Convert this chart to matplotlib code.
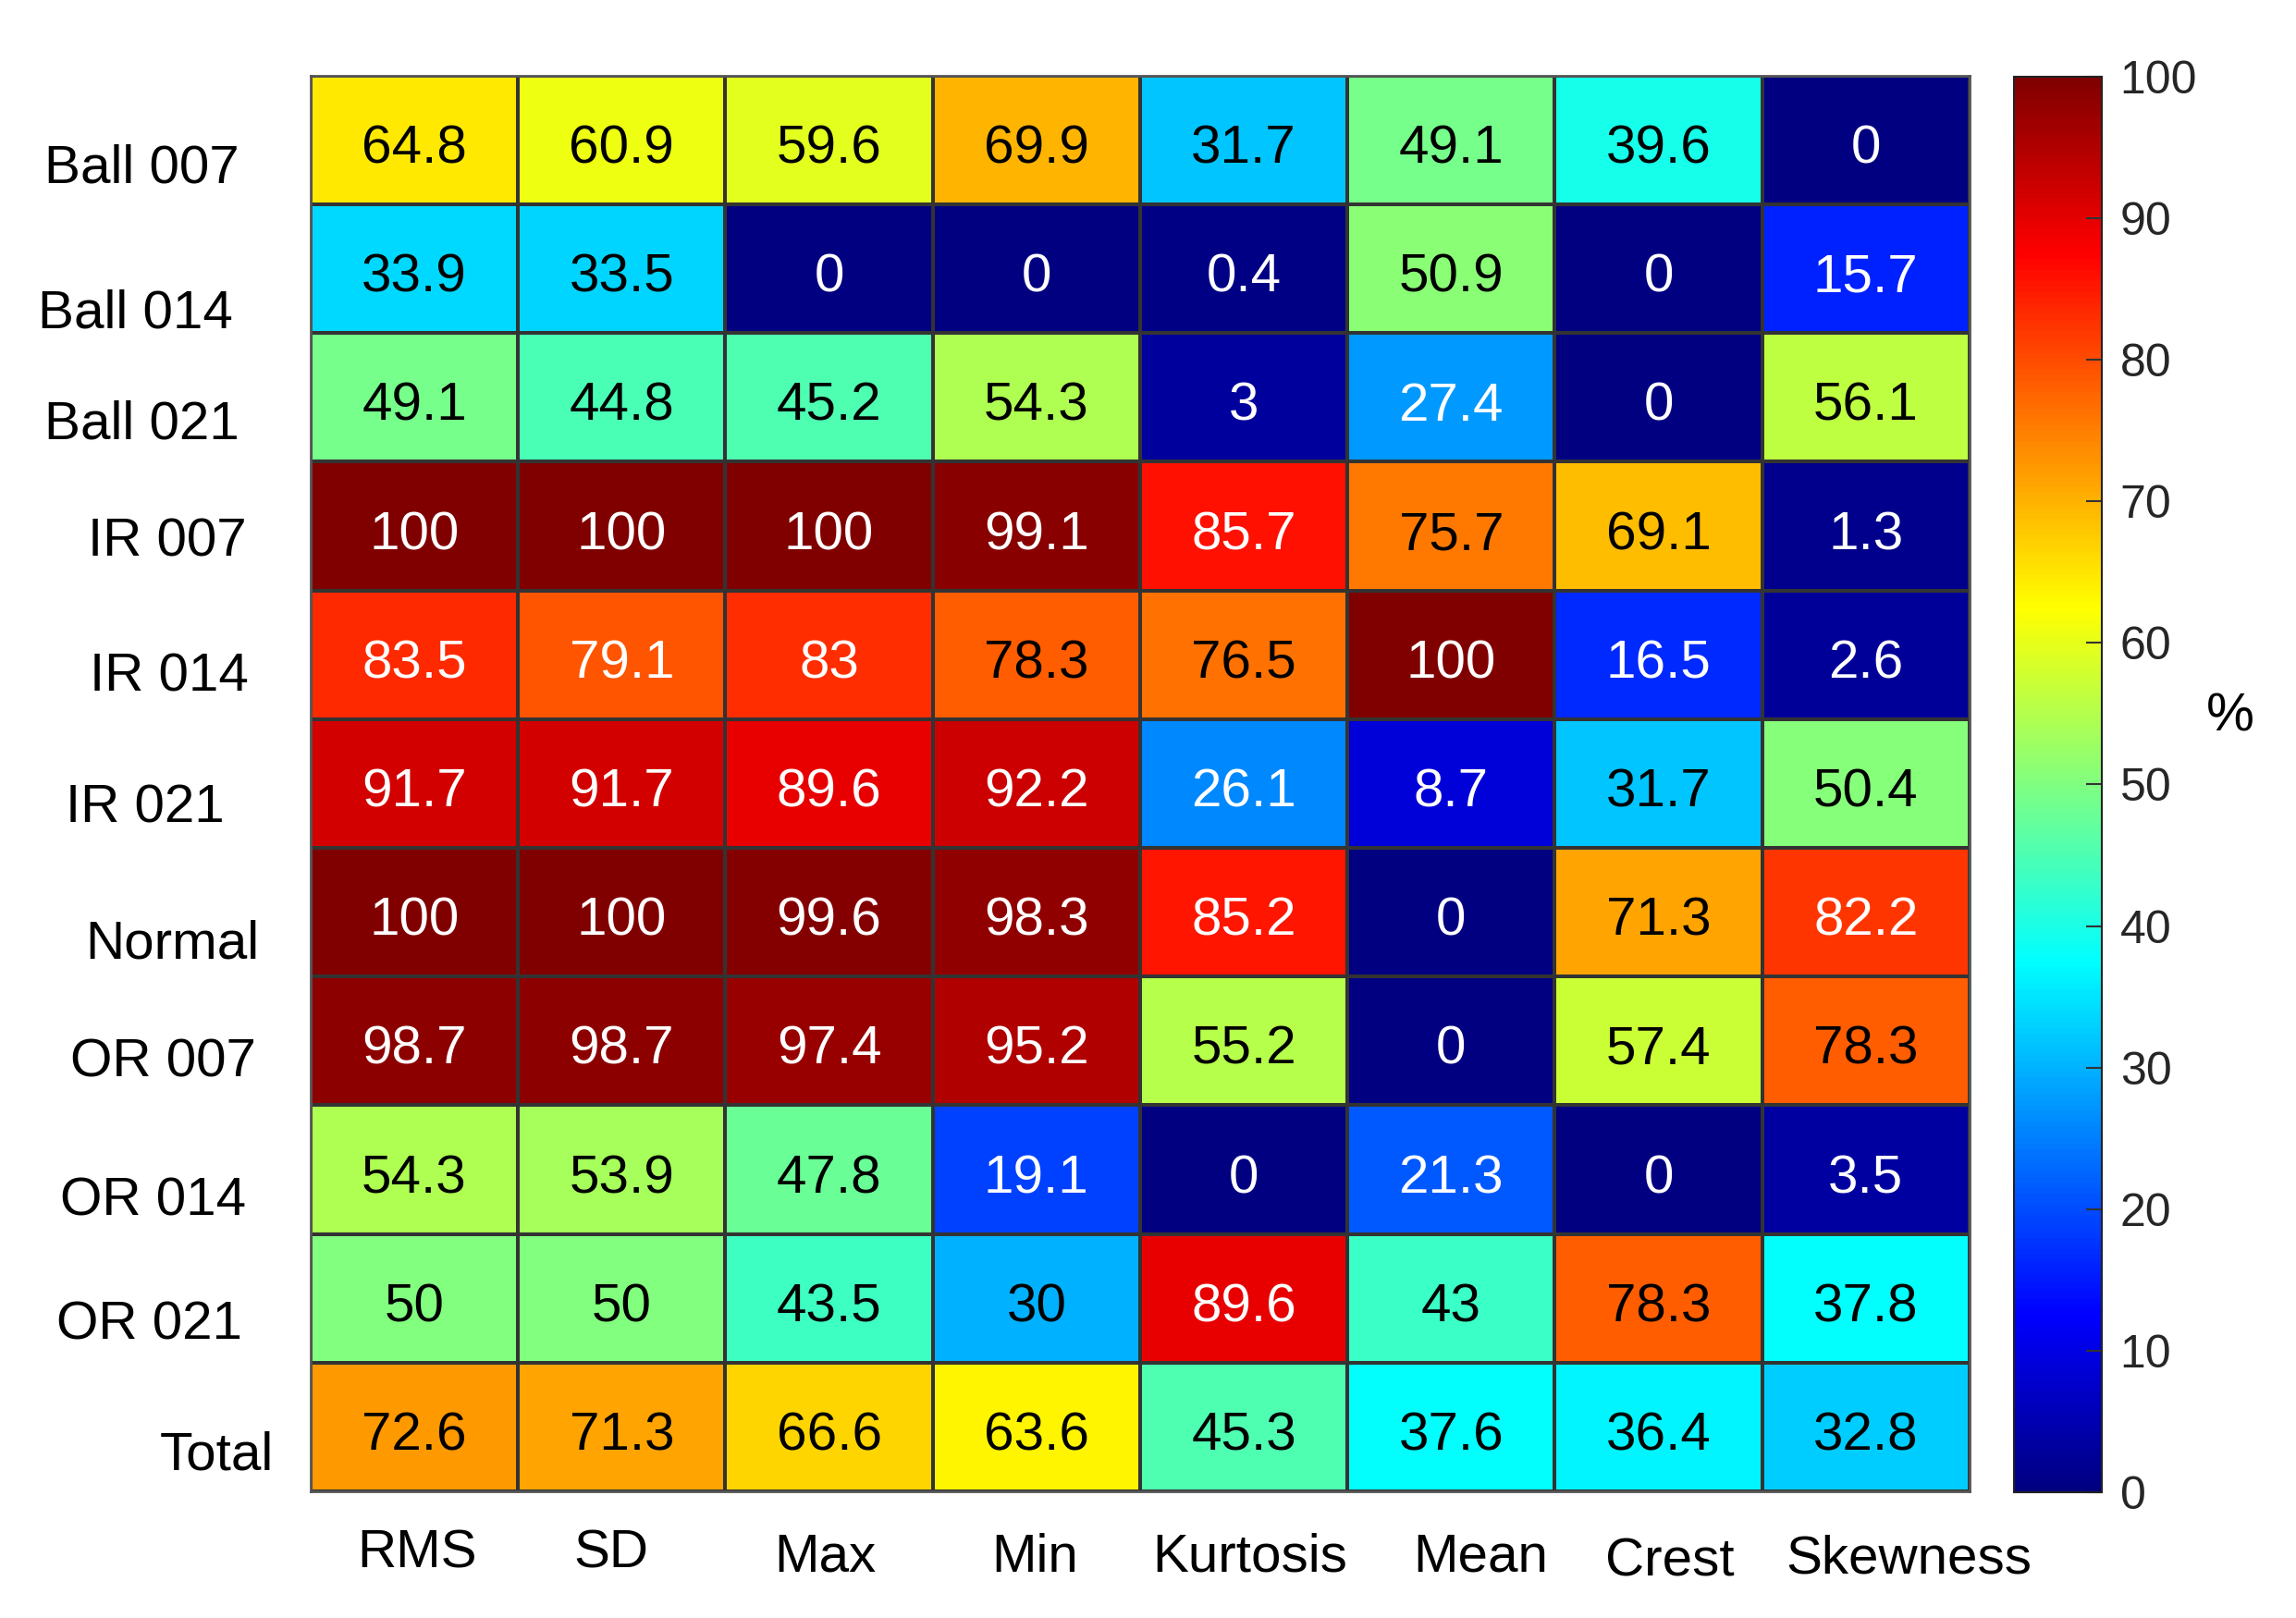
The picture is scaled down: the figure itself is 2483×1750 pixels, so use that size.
import matplotlib
matplotlib.use("Agg")
import matplotlib.pyplot as plt
from matplotlib.colors import LinearSegmentedColormap
import numpy as np

# données (précision en %)
lignes = ["Ball 007", "Ball 014", "Ball 021", "IR 007", "IR 014", "IR 021",
          "Normal", "OR 007", "OR 014", "OR 021", "Total"]
colonnes = ["RMS", "SD", "Max", "Min", "Kurtosis", "Mean", "Crest", "Skewness"]

ball_007 = [64.8, 60.9, 59.6, 69.9, 31.7, 49.1, 39.6, 0]
ball_014 = [33.9, 33.5, 0, 0, 0.4, 50.9, 0, 15.7]
ball_021 = [49.1, 44.8, 45.2, 54.3, 3, 27.4, 0, 56.1]
ir_007 = [100, 100, 100, 99.1, 85.7, 75.7, 69.1, 1.3]
ir_014 = [83.5, 79.1, 83, 78.3, 76.5, 100, 16.5, 2.6]
ir_021 = [91.7, 91.7, 89.6, 92.2, 26.1, 8.7, 31.7, 50.4]
normal = [100, 100, 99.6, 98.3, 85.2, 0, 71.3, 82.2]
or_007 = [98.7, 98.7, 97.4, 95.2, 55.2, 0, 57.4, 78.3]
or_014 = [54.3, 53.9, 47.8, 19.1, 0, 21.3, 0, 3.5]
or_021 = [50, 50, 43.5, 30, 89.6, 43, 78.3, 37.8]
total = [72.6, 71.3, 66.6, 63.6, 45.3, 37.6, 36.4, 32.8]

valeurs = np.array([ball_007, ball_014, ball_021, ir_007, ir_014, ir_021,
                    normal, or_007, or_014, or_021, total])

# décalages des étiquettes (en pixels) pour coller à l'image d'origine
ecart_lignes = [77, 84, 77, 69, 67, 93, 56, 59, 70, 74, 40]
decal_lignes = [27, 45, 26, 13, 20, 23, 31, 20, 30, 25, 27]
decal_col_x = [3, -11, -4, -2, 7, 32, 12, 47]
decal_col_y = [64, 64, 68, 68, 68, 68, 73, 70]

# jet façon MATLAB (un peu différent de celui de matplotlib)
jet_matlab = LinearSegmentedColormap("jet_matlab", {
    'red':   [(0, 0, 0), (3/8, 0, 0), (5/8, 1, 1), (7/8, 1, 1), (1, 0.5, 0.5)],
    'green': [(0, 0, 0), (1/8, 0, 0), (3/8, 1, 1), (5/8, 1, 1), (7/8, 0, 0), (1, 0, 0)],
    'blue':  [(0, 0.5, 0.5), (1/8, 1, 1), (3/8, 1, 1), (5/8, 0, 0), (1, 0, 0)],
}, N=256)

police = "Liberation Sans"
plt.rcParams['font.family'] = [police, 'DejaVu Sans']

fig = plt.figure(figsize=(24.83, 17.5), dpi=100)
ax = fig.add_axes([0.1353, 0.0783, 0.7225, 0.8749])
cax = fig.add_axes([0.8772, 0.0777, 0.0383, 0.8749])

nl, nc = valeurs.shape
mesh = ax.pcolormesh(np.arange(nc + 1), np.arange(nl + 1), valeurs,
                     cmap=jet_matlab, vmin=0, vmax=100,
                     edgecolors='#333333', linewidth=1.5)
ax.set_xlim(0, nc)
ax.set_ylim(nl, 0)
ax.set_xticks([])
ax.set_yticks([])
for s in ax.spines.values():
    s.set_color('#555555')
    s.set_linewidth(2)

for i in range(nl):
    for j in range(nc):
        v = valeurs[i, j]
        couleur = 'white' if (v < 29 or v > 78.5) else 'black'
        ax.annotate(f"{v:g}", xy=(j + 0.5, i + 0.5), xytext=(0, -10),
                    textcoords='offset pixels', ha='center', va='center',
                    fontsize=42, color=couleur)

for i, nom in enumerate(lignes):
    ax.annotate(nom, xy=(0, i + 0.5), xytext=(-ecart_lignes[i], -decal_lignes[i] - 4),
                textcoords='offset pixels', ha='right', va='center',
                fontsize=42, color='black', annotation_clip=False)

for j, nom in enumerate(colonnes):
    ax.annotate(nom, xy=(j + 0.5, nl), xytext=(decal_col_x[j], -decal_col_y[j] - 4),
                textcoords='offset pixels', ha='center', va='center',
                fontsize=42, color='black', annotation_clip=False)

cbar = fig.colorbar(mesh, cax=cax, ticks=np.arange(0, 101, 10))
cbar.outline.set_linewidth(1.5)
cbar.outline.set_edgecolor('#222222')
cax.tick_params(direction='in', length=12, width=1.5, colors='#333333',
                labelsize=36, pad=14, labelcolor='#262626')
fig.text(0.9714, 0.557, "%", fontsize=42, ha='center', va='center')

fig.savefig("out.png", dpi=100, facecolor='white')
